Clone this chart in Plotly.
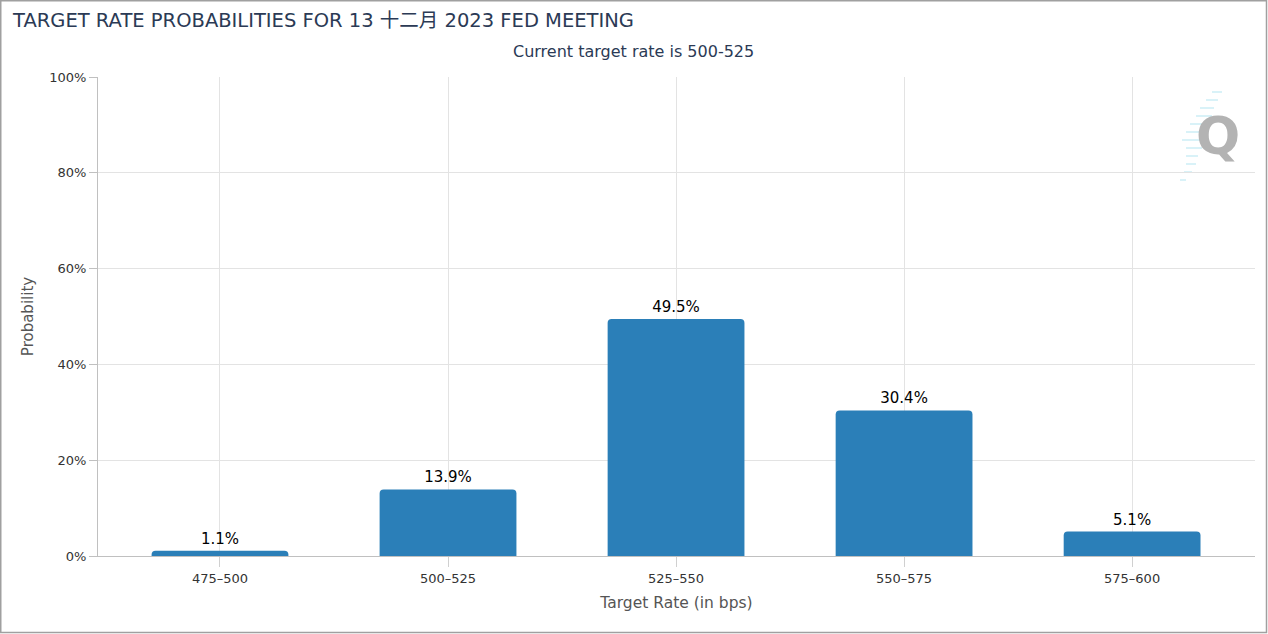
import plotly.graph_objects as go

categories = ["475–500", "500–525", "525–550", "550–575", "575–600"]
probabilities = [1.1, 13.9, 49.5, 30.4, 5.1]
y_ticks = [0, 20, 40, 60, 80, 100]
y_tick_labels = ["0%", "20%", "40%", "60%", "80%", "100%"]

W, H = 1268, 634
L, R, T, B = 98, 13, 77, 78
pw, ph = W - L - R, H - T - B

def px(x):
    return (x - L) / pw

def py(y):
    return (H - B - y) / ph

FONT = "DejaVu Sans, Noto Sans CJK SC, sans-serif"

fig = go.Figure(go.Bar(
    x=categories,
    y=probabilities,
    marker=dict(color="#2b7fb8", line=dict(width=0)),
    texttemplate="%{y:.1f}%",
    textposition="outside",
    textfont=dict(color="#000000", size=15, family=FONT),
    cliponaxis=False,
))

# speed lines of the watermark logo (decoration)
speed = [(1212, 1222, 92), (1206, 1218, 100), (1200, 1214, 108), (1196, 1212, 116),
         (1190, 1208, 124), (1186, 1204, 132), (1182, 1204, 140), (1186, 1202, 148),
         (1186, 1198, 156), (1186, 1196, 164), (1184, 1192, 172), (1180, 1186, 180)]

shapes = [
    dict(type="rect", xref="paper", yref="paper",
         x0=px(0.75), x1=px(W - 1.5), y0=py(H - 1.5), y1=py(0.75),
         line=dict(color="#a0a0a0", width=1.5), fillcolor="rgba(0,0,0,0)", layer="above"),
]
for x0, x1, y in speed:
    shapes.append(dict(type="line", xref="paper", yref="paper",
                       x0=px(x0), x1=px(x1), y0=py(y), y1=py(y),
                       line=dict(color="#cdeef6", width=1.5), layer="below"))

fig.update_layout(
    width=W, height=H,
    margin=dict(l=L, r=R, t=T, b=B),
    paper_bgcolor="white",
    plot_bgcolor="white",
    bargap=0.4,
    barcornerradius=4,
    showlegend=False,
    font=dict(family=FONT, color="#333333"),
    title=dict(
        text="TARGET RATE PROBABILITIES FOR 13 十二月 2023 FED MEETING",
        x=13 / W, xanchor="left", y=1 - 20 / H, yanchor="middle",
        font=dict(size=19.5, color="#2b3a55", family=FONT),
    ),
    xaxis=dict(
        type="category",
        range=[-0.535, 4.539],
        showgrid=True, gridcolor="#e3e3e3", gridwidth=1,
        showline=True, linecolor="#c0c0c0", linewidth=1,
        ticks="outside", ticklen=10, tickcolor="#d0d0d0",
        tickfont=dict(size=13, color="#333333"),
        title=dict(text="Target Rate (in bps)", font=dict(size=15.5, color="#555555"), standoff=12),
        zeroline=False,
    ),
    yaxis=dict(
        range=[0, 100],
        tickvals=y_ticks, ticktext=y_tick_labels,
        showgrid=True, gridcolor="#e3e3e3", gridwidth=1,
        showline=True, linecolor="#c0c0c0", linewidth=1,
        ticks="outside", ticklen=8, tickcolor="#c0c0c0",
        tickfont=dict(size=13, color="#333333"),
        title=dict(text="Probability", font=dict(size=15, color="#555555"), standoff=11),
        zeroline=False,
    ),
    annotations=[
        dict(text="Current target rate is 500-525", xref="paper", yref="paper",
             x=px(633), y=py(51), xanchor="center", yanchor="middle", showarrow=False,
             font=dict(size=16, color="#2b3a55", family=FONT)),
        dict(text="<b>Q</b>", xref="paper", yref="paper",
             x=px(1218), y=py(136), xanchor="center", yanchor="middle", showarrow=False,
             font=dict(size=52, color="#b3b3b3", family="DejaVu Sans")),
    ],
    shapes=shapes,
)

fig.write_html("out.html", config={"displayModeBar": False},
               post_script="document.body.style.margin='0';")
